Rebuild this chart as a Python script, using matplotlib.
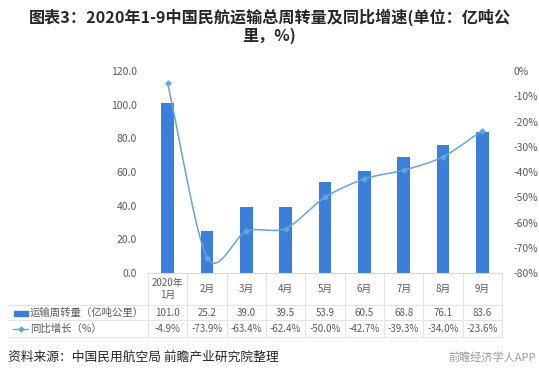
import numpy as np
import matplotlib
matplotlib.use("Agg")
import matplotlib.pyplot as plt
from matplotlib.patches import Rectangle
from matplotlib.lines import Line2D

plt.rcParams['font.family'] = ['Noto Sans CJK SC', 'DejaVu Sans']

categories = ["2020年\n1月", "2月", "3月", "4月", "5月", "6月", "7月", "8月", "9月"]
volume = [101.0, 25.2, 39.0, 39.5, 53.9, 60.5, 68.8, 76.1, 83.6]
growth = [-4.9, -73.9, -63.4, -62.4, -50.0, -42.7, -39.3, -34.0, -23.6]
series_names = ["运输周转量（亿吨公里）", "同比增长（%）"]
left_ticks = [0, 20, 40, 60, 80, 100, 120]
right_ticks = [0, -10, -20, -30, -40, -50, -60, -70, -80]
title_lines = ["图表3：2020年1-9中国民航运输总周转量及同比增速(单位：亿吨公", "里，%)"]
source = "资料来源：中国民用航空局 前瞻产业研究院整理"
brand = "前瞻经济学人APP"

W, H = 539, 378
fig = plt.figure(figsize=(W / 100, H / 100), dpi=100)
fig.patch.set_facecolor("white")

def fx(px):
    return px / W

def fy(py):
    return 1 - py / H

ax_l, ax_r, ax_t, ax_b = 148, 502, 71, 273
ax = fig.add_axes([fx(ax_l), fy(ax_b), (ax_r - ax_l) / W, (ax_b - ax_t) / H])
n = len(categories)
x = np.arange(n)
bar_color = "#3C7FDB"
line_color = "#62A6DB"
text_color = "#595959"

ax.bar(x, volume, width=0.32, color=bar_color, zorder=2)
ax.set_xlim(-0.5, n - 0.5)
ax.set_ylim(0, 120)
ax.set_yticks(left_ticks)
ax.set_yticklabels([f"{v:.1f}" for v in left_ticks], fontsize=7.5, color=text_color)
ax.tick_params(axis="y", length=0, pad=8)
ax.set_xticks([])
for s in ax.spines.values():
    s.set_visible(False)

ax2 = ax.twinx()
ax2.set_ylim(-80, 0)
ax2.set_yticks(right_ticks)
ax2.set_yticklabels([f"{v}%" for v in right_ticks], fontsize=7.5, color=text_color)
ax2.tick_params(axis="y", length=0, pad=8)
for s in ax2.spines.values():
    s.set_visible(False)

# smooth line (Catmull-Rom through the data points)
gx = np.asarray(x, dtype=float)
gy = np.asarray(growth, dtype=float)
px = np.concatenate([[2 * gx[0] - gx[1]], gx, [2 * gx[-1] - gx[-2]]])
py = np.concatenate([[2 * gy[0] - gy[1]], gy, [2 * gy[-1] - gy[-2]]])
sx, sy = [], []
t = np.linspace(0, 1, 30)
for i in range(1, len(px) - 2):
    p0, p1, p2, p3 = [np.array([px[j], py[j]]) for j in (i - 1, i, i + 1, i + 2)]
    m1 = (p2 - p0) / 2 * 0.85
    m2 = (p3 - p1) / 2 * 0.85
    h00 = 2 * t**3 - 3 * t**2 + 1
    h10 = t**3 - 2 * t**2 + t
    h01 = -2 * t**3 + 3 * t**2
    h11 = t**3 - t**2
    pts = np.outer(h00, p1) + np.outer(h10, m1) + np.outer(h01, p2) + np.outer(h11, m2)
    sx.extend(pts[:, 0]); sy.extend(pts[:, 1])
ax2.plot(sx, sy, color=line_color, lw=1.1, zorder=3)
ax2.plot(gx, gy, ls="none", marker="D", ms=2.6, color=line_color, zorder=4)

# table
col_w = (ax_r - ax_l) / n
grid_c = "#E3E3E3"
row_lines = [305, 320, 337]
for yy in row_lines:
    fig.add_artist(Line2D([fx(8), fx(ax_r)], [fy(yy), fy(yy)], color=grid_c, lw=0.8))
for k in range(n + 1):
    xx = ax_l + k * col_w
    fig.add_artist(Line2D([fx(xx), fx(xx)], [fy(ax_b), fy(337)], color=grid_c, lw=0.8))
fig.add_artist(Line2D([fx(ax_l), fx(ax_r)], [fy(ax_b), fy(ax_b)], color="#D9D9D9", lw=0.8))

for k, c in enumerate(categories):
    cx = ax_l + (k + 0.5) * col_w
    fig.text(fx(cx), fy(289), c, ha="center", va="center", fontsize=7,
             color=text_color, linespacing=1.3)
    fig.text(fx(cx), fy(313), f"{volume[k]:.1f}", ha="center", va="center",
             fontsize=7, color=text_color)
    fig.text(fx(cx), fy(329), f"{growth[k]:.1f}%", ha="center", va="center",
             fontsize=7, color=text_color)

fig.add_artist(Rectangle((fx(14), fy(315.5)), fx(14), 5 / H, color=bar_color,
                         transform=fig.transFigure))
fig.text(fx(30), fy(313), series_names[0], ha="left", va="center", fontsize=7.5,
         color=text_color)
fig.add_artist(Line2D([fx(13), fx(28)], [fy(329), fy(329)], color=line_color, lw=1,
                      transform=fig.transFigure))
fig.add_artist(Line2D([fx(20.5)], [fy(329)], color=line_color, marker="D", ms=2.5,
                      transform=fig.transFigure))
fig.text(fx(30), fy(329), series_names[1], ha="left", va="center", fontsize=7.5,
         color=text_color)

fig.text(0.5, fy(17), title_lines[0], ha="center", va="center", fontsize=11.6,
         fontweight="bold", color="#262626")
fig.text(0.5, fy(36), title_lines[1], ha="center", va="center", fontsize=11.6,
         fontweight="bold", color="#262626")
fig.text(fx(8), fy(357), source, ha="left", va="center", fontsize=9.2, color="#262626")
fig.text(fx(536), fy(357), brand, ha="right", va="center", fontsize=8, color="#9A9A9A")

fig.savefig("out.png", dpi=100, facecolor="white")
